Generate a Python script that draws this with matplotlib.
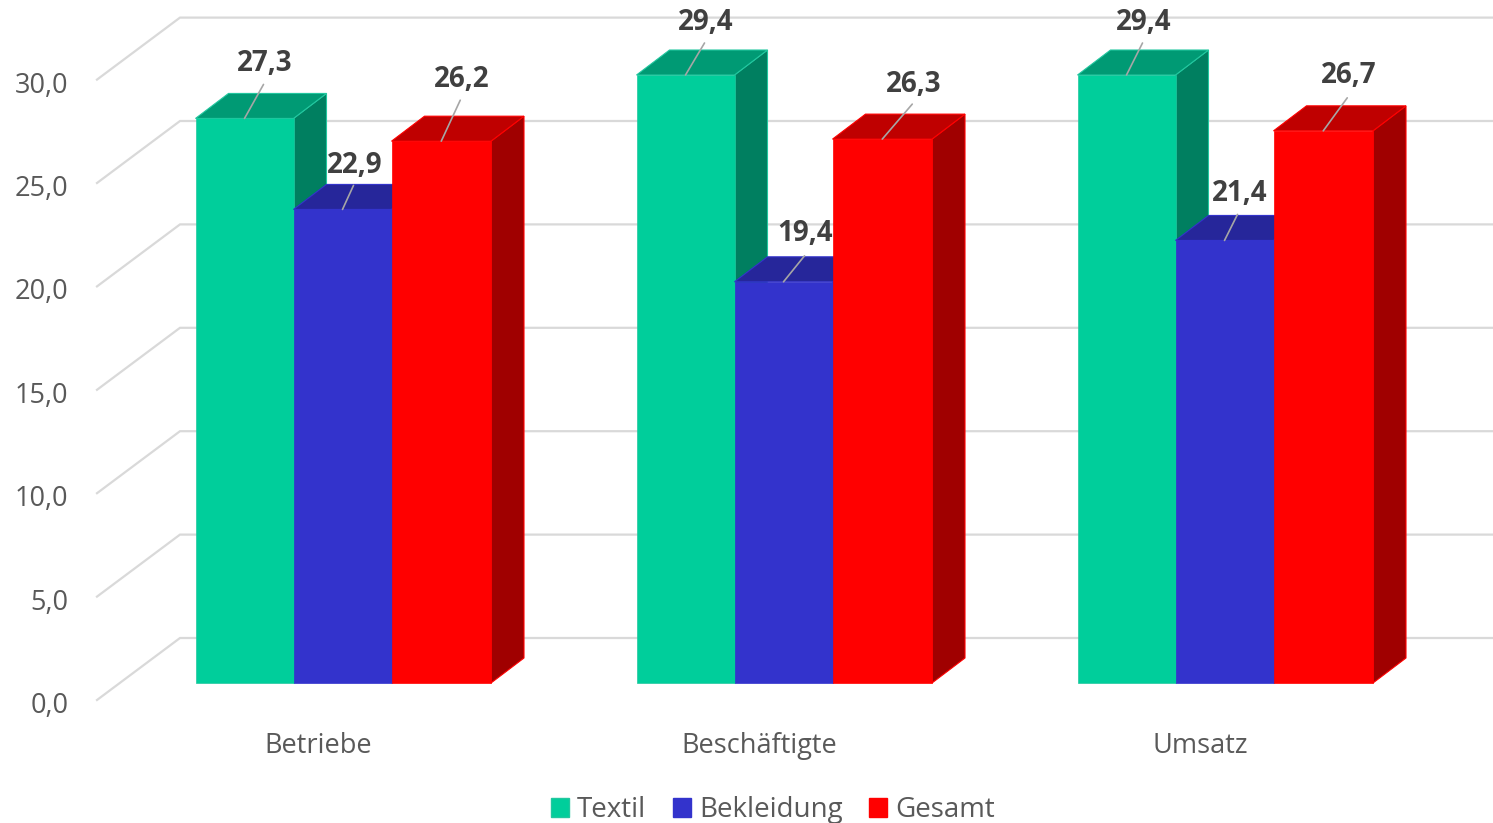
import matplotlib
matplotlib.use('Agg')
from matplotlib import pyplot as plt
from matplotlib.patches import Patch, Polygon
from matplotlib.transforms import ScaledTranslation

plt.rcParams['font.family'] = ['Open Sans', 'DejaVu Sans']

# Daten
categories = ['Betriebe', 'Beschäftigte', 'Umsatz']
textil = [27.3, 29.4, 29.4]
bekleidung = [22.9, 19.4, 21.4]
gesamt = [26.2, 26.3, 26.7]
y_ticks = [0, 5, 10, 15, 20, 25, 30]
y_tick_labels = ['0,0', '5,0', '10,0', '15,0', '20,0', '25,0', '30,0']

# Masse in Pixeln
W, H = 1493, 823
x_scale = 441
y_scale = 20.68
depth_x = 33 / x_scale
depth_y = 25 / y_scale
group_left = -123 / x_scale
bar_widths = [98 / x_scale, 98 / x_scale, 99.5 / x_scale]

# Farben: Front, Deckel, Seite, Kante
styles = [
    ('Textil', textil, '#00CE9B', '#009A74', '#007F60', '#22C79F'),
    ('Bekleidung', bekleidung, '#3333CC', '#26269A', '#26269A', '#3333CC'),
    ('Gesamt', gesamt, '#FF0000', '#BF0000', '#A00000', '#FF0000'),
]

# Versatz von Fuehrungslinie und Beschriftung je Balken (Pixel)
line_offsets = [
    [(19, 34), (11, 24), (19, 41)],
    [(19, 32), (21, 26), (30, 35)],
    [(16, 32), (13, 26), (24, 33)],
]
text_offsets = [
    [(20, 55), (12, 44), (20, 62)],
    [(20, 53), (22, 48), (31, 55)],
    [(17, 53), (15, 47), (25, 55)],
]

fig = plt.figure(figsize=(W / 100, H / 100), dpi=100)
left_px, bottom_px = 72, 728
ax = fig.add_axes([left_px / W, (H - bottom_px) / H, (W - left_px) / W, bottom_px / H])
ax.set_xlim((left_px - 318.5) / x_scale, (W - 318.5) / x_scale)
ax.set_ylim(-(bottom_px - 683) / y_scale, 683 / y_scale)

for s in ax.spines.values():
    s.set_visible(False)

# Rueckwand und Boden: Gitterlinien
wall_x = (180 - 318.5) / x_scale
floor_x = (97 - 318.5) / x_scale
wall_y = 45 / y_scale
floor_y = -17 / y_scale
for v in y_ticks:
    ax.plot([floor_x, wall_x, ax.get_xlim()[1]], [v + floor_y, v + wall_y, v + wall_y],
            color='#D9D9D9', lw=1.6, solid_joinstyle='miter', zorder=1)

# Balken von links nach rechts, damit sie sich richtig ueberdecken
for g in range(len(categories)):
    x = g + group_left
    for j, (name, values, front, top, side, edge) in enumerate(styles):
        v = values[g]
        w = bar_widths[j]
        ax.add_patch(Polygon([(x + w, 0), (x + w + depth_x, depth_y), (x + w + depth_x, v + depth_y), (x + w, v)],
                             facecolor=side, edgecolor=edge, lw=0.8, zorder=2))
        ax.add_patch(Polygon([(x, v), (x + w, v), (x + w + depth_x, v + depth_y), (x + depth_x, v + depth_y)],
                             facecolor=top, edgecolor=edge, lw=0.8, zorder=2))
        ax.bar(x, v, width=w, align='edge', color=front, edgecolor=edge, lw=0.5, zorder=2)
        x += w

# Werte mit Fuehrungslinien
for g in range(len(categories)):
    x = g + group_left
    for j, (name, values, front, top, side, edge) in enumerate(styles):
        v = values[g]
        w = bar_widths[j]
        mid = x + w / 2
        ax.annotate('', xy=(mid, v), xytext=line_offsets[g][j], textcoords='offset pixels',
                    arrowprops=dict(arrowstyle='-', color='#A6A6A6', lw=1.2, shrinkA=0, shrinkB=0), zorder=4)
        ax.annotate(f'{v:.1f}'.replace('.', ','), xy=(mid, v), xytext=text_offsets[g][j],
                    textcoords='offset pixels', ha='center', va='center',
                    fontsize=20, fontweight='bold', color='#404040', zorder=5)
        x += w

# Achsenbeschriftung
ax.set_xticks(range(len(categories)))
ax.set_xticklabels(categories, fontsize=19.5, color='#595959')
ax.set_yticks(y_ticks)
ax.set_yticklabels(y_tick_labels, fontsize=19.5, color='#595959')
ax.tick_params(axis='both', length=0)
ax.tick_params(axis='x', pad=3)
ax.tick_params(axis='y', pad=2.5)
shift = ScaledTranslation(0, -19.5 / 100, fig.dpi_scale_trans)
for lab in ax.get_yticklabels():
    lab.set_transform(lab.get_transform() + shift)

# Legende
handles = [Patch(facecolor=st[2], edgecolor=st[5], label=st[0]) for st in styles]
fig.legend(handles=handles, loc='center', bbox_to_anchor=(773 / W, (H - 810) / H), ncol=3,
           frameon=False, fontsize=20, labelcolor='#595959', handlelength=0.65, handleheight=0.65,
           handletextpad=0.3, columnspacing=0.95, borderpad=0, borderaxespad=0)

plt.savefig('out.png', dpi=100)
